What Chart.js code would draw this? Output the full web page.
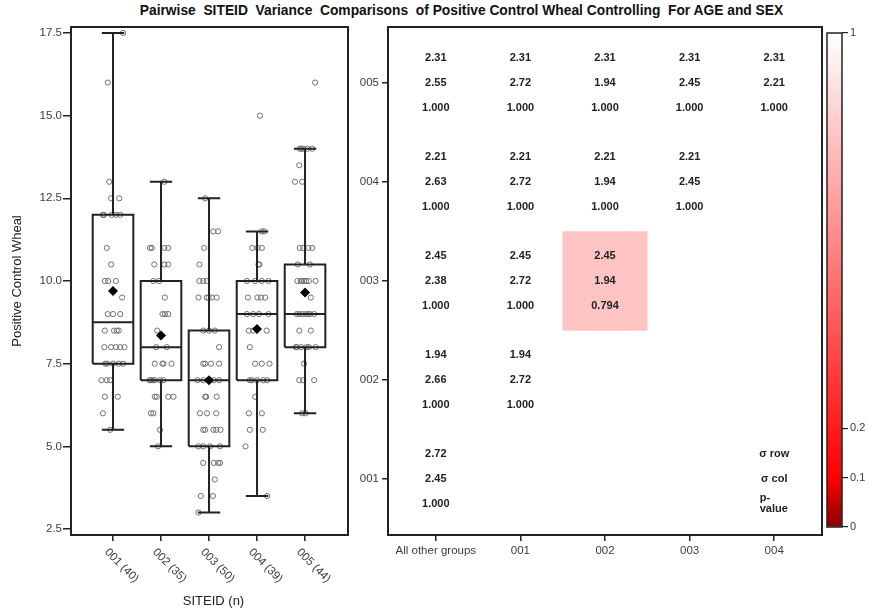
<!DOCTYPE html>
<html><head><meta charset="utf-8">
<script src="https://cdn.jsdelivr.net/npm/chart.js@4.4.0/dist/chart.umd.min.js"></script>
<style>
html,body{margin:0;padding:0;background:#fff;}
#wrap{position:relative;width:870px;height:611px;overflow:hidden;background:#fff;}
canvas{position:absolute;top:0;}
#title{position:absolute;top:3px;left:0;width:923px;text-align:center;white-space:pre;
 font:bold 13.8px "Liberation Sans",Arial,sans-serif;color:#111;}
</style></head><body>
<div id="wrap">
<div id="title">Pairwise  SITEID  Variance  Comparisons  of Positive Control Wheal Controlling  For AGE and SEX</div>
<canvas id="box" width="360" height="611" style="left:0px"></canvas>
<canvas id="mat" width="478" height="611" style="left:350px"></canvas>
<canvas id="cb" width="50" height="611" style="left:820px"></canvas>
</div>
<script>
// ---------- data: boxplot panel ----------
const sites = ['001','002','003','004','005'];
const siteN = [40,35,50,39,44];
const q1Vals = [7.5,7.0,5.0,7.0,8.0];
const medVals = [8.75,8.0,7.0,9.0,9.0];
const q3Vals = [12.0,10.0,8.5,10.0,10.5];
const whiskLo = [5.5,5.0,3.0,3.5,6.0];
const whiskHi = [17.5,13.0,12.5,11.5,14.0];
const meanVals = [9.7,8.35,7.0,8.55,9.65];
const yTickVals = [2.5,5.0,7.5,10.0,12.5,15.0,17.5];

const vals001 = [17.5,16.0,13.0,12.5,12.5,12.0,12.0,12.0,12.0,12.0,11.0,10.5,10.0,10.0,10.0,9.5,9.0,9.0,9.0,8.5,8.5,8.5,8.5,8.0,8.0,8.0,8.0,8.0,7.5,7.5,7.5,7.5,7.5,7.0,7.0,7.0,6.5,6.5,6.0,5.5];
const jit001 = [0.21,-0.11,-0.08,-0.04,0.13,-0.21,-0.03,0.06,0.15,-0.19,-0.13,-0.04,-0.17,0.06,-0.10,0.19,-0.11,0.15,0.00,-0.17,0.02,0.12,0.08,-0.18,0.06,0.15,0.24,-0.04,-0.12,0.12,0.21,0.00,-0.16,-0.24,-0.13,-0.06,-0.17,0.10,-0.21,-0.06];
const vals002 = [13.0,11.0,11.0,11.0,11.0,10.5,10.5,10.5,10.0,10.0,9.5,9.0,9.0,9.0,8.5,8.0,8.0,7.5,7.5,7.5,7.5,7.0,7.0,7.0,7.0,7.0,7.0,6.5,6.5,6.5,6.5,6.0,6.0,5.5,5.0];
const jit002 = [0.07,-0.23,-0.19,0.07,0.15,-0.14,0.07,0.15,-0.16,-0.04,0.08,0.03,0.08,0.15,-0.08,-0.10,0.12,-0.13,0.03,0.05,0.22,-0.24,-0.21,-0.13,-0.02,0.05,-0.17,-0.13,-0.09,0.15,0.26,-0.21,-0.16,-0.02,-0.06];
const vals003 = [12.5,11.5,11.5,11.0,10.5,10.0,10.0,10.0,9.5,9.5,9.5,9.5,9.5,8.5,8.5,8.5,8.0,7.5,7.5,7.5,7.5,7.0,7.0,7.0,7.0,7.0,7.0,6.5,6.5,6.5,6.0,6.0,6.0,5.5,5.5,5.5,5.5,5.5,5.0,5.0,5.0,5.0,4.5,4.5,4.5,4.5,4.0,3.5,3.5,3.0];
const jit003 = [-0.08,0.09,0.19,-0.10,-0.20,-0.20,-0.12,-0.05,-0.22,-0.05,-0.01,0.16,0.06,-0.12,0.12,0.00,0.21,-0.12,-0.08,0.21,0.04,-0.24,-0.02,0.00,0.21,-0.12,0.10,-0.08,-0.06,0.16,-0.04,0.15,-0.19,-0.12,-0.08,0.09,0.15,0.24,-0.22,-0.12,0.23,0.02,-0.12,0.10,0.19,0.23,0.12,-0.17,0.08,-0.22];
const vals004 = [15.0,11.5,11.5,11.0,11.0,11.0,10.5,10.5,10.0,10.0,10.0,10.0,9.5,9.5,9.5,9.5,9.0,9.0,9.0,9.0,8.5,8.5,8.5,8.0,7.5,7.5,7.5,7.0,7.0,7.0,7.0,7.0,6.5,6.0,6.0,5.5,5.5,5.0,3.5];
const jit004 = [0.06,0.10,0.15,-0.10,0.01,0.10,0.03,0.05,0.24,-0.21,-0.04,0.10,-0.19,0.01,0.08,0.17,-0.21,-0.08,0.24,0.04,-0.08,0.20,-0.17,-0.15,-0.04,0.26,0.10,-0.15,-0.11,0.13,0.00,0.21,-0.04,0.10,-0.17,-0.15,0.12,-0.24,0.21];
const vals005 = [16.0,14.0,14.0,14.0,14.0,14.0,13.5,13.0,13.0,11.0,11.0,11.0,11.0,10.5,10.5,10.0,10.0,10.0,10.0,10.0,10.0,10.0,9.5,9.0,9.0,9.0,9.0,9.0,9.0,9.0,8.5,8.5,8.0,8.0,8.0,8.0,8.0,8.0,7.5,7.0,7.0,7.0,6.0,6.0];
const jit005 = [0.21,-0.11,-0.04,0.05,0.15,-0.08,-0.12,-0.21,-0.06,-0.11,-0.04,0.07,0.15,-0.15,0.10,-0.16,-0.09,-0.02,0.08,0.22,-0.06,0.02,0.12,-0.17,-0.12,0.01,0.10,-0.06,0.06,0.19,-0.12,0.12,-0.19,0.03,0.22,-0.17,-0.08,0.08,-0.02,-0.04,0.19,-0.12,0.01,-0.06];

// ---------- data: comparison matrix ----------
const colLabels = ['All other groups','001','002','003','004'];
const rowLabels = ['001','002','003','004','005'];
const cellRow = [5,5,5,5,5,4,4,4,4,3,3,3,2,2,1];
const cellCol = [0,1,2,3,4,0,1,2,3,0,1,2,0,1,0];
const sigmaRow = [2.31,2.31,2.31,2.31,2.31,2.21,2.21,2.21,2.21,2.45,2.45,2.45,1.94,1.94,2.72];
const sigmaCol = [2.55,2.72,1.94,2.45,2.21,2.63,2.72,1.94,2.45,2.38,2.72,1.94,2.66,2.72,2.45];
const pValues = [1,1,1,1,1,1,1,1,1,1,1,0.794,1,1,1];
const legendLines = ['\u03C3 row','\u03C3 col','p-','value'];

// ---------- colour map ----------
const cmapStops = [0,0.1,1];
const cmapColors = [[139,0,0],[255,0,0],[255,255,255]];
const cbTicks = [0,0.1,0.2,1];

// ---------- helpers ----------
const FONT = '"Liberation Sans", Arial, sans-serif';
Chart.defaults.font.family = FONT;
Chart.defaults.animation = false;
const TICKC = '#3b3b46';
const LINEC = '#222';

function cmap(p){
  for(let i=1;i<cmapStops.length;i++){
    if(p<=cmapStops[i]){
      const t=(p-cmapStops[i-1])/(cmapStops[i]-cmapStops[i-1]);
      const a=cmapColors[i-1], b=cmapColors[i];
      return 'rgb('+a.map((v,k)=>Math.round(v+(b[k]-v)*t)).join(',')+')';
    }
  }
  return 'rgb('+cmapColors[cmapColors.length-1].join(',')+')';
}

const allVals=[vals001,vals002,vals003,vals004,vals005];
const allJit=[jit001,jit002,jit003,jit004,jit005];
const pointData=[];
allVals.forEach((arr,i)=>arr.forEach((v,k)=>pointData.push({x:i+1+allJit[i][k],y:v})));

const BOXH=0.423, CAPH=0.233;
const boxPath=[];
sites.forEach((s,i)=>{
  const x=i+1;
  const gap={x:x,y:null};
  boxPath.push({x:x-BOXH,y:q1Vals[i]},{x:x+BOXH,y:q1Vals[i]},{x:x+BOXH,y:q3Vals[i]},{x:x-BOXH,y:q3Vals[i]},{x:x-BOXH,y:q1Vals[i]},gap);
  boxPath.push({x:x-BOXH,y:medVals[i]},{x:x+BOXH,y:medVals[i]},gap);
  boxPath.push({x:x,y:whiskLo[i]},{x:x,y:q1Vals[i]},gap);
  boxPath.push({x:x,y:q3Vals[i]},{x:x,y:whiskHi[i]},gap);
  boxPath.push({x:x-CAPH,y:whiskLo[i]},{x:x+CAPH,y:whiskLo[i]},gap);
  boxPath.push({x:x-CAPH,y:whiskHi[i]},{x:x+CAPH,y:whiskHi[i]},gap);
});
const meanData=meanVals.map((m,i)=>({x:i+1,y:m}));

const framePlugin={id:'frame',afterDraw(chart,args,opts){
  const a=chart.chartArea,ctx=chart.ctx;
  ctx.save();ctx.strokeStyle=LINEC;ctx.lineWidth=opts.lw||2;
  ctx.strokeRect(a.left,a.top,a.right-a.left,a.bottom-a.top);ctx.restore();
}};

// ---------- left: boxplot ----------
const boxLabels={id:'boxLabels',afterDraw(chart){
  const ctx=chart.ctx,xs=chart.scales.x,a=chart.chartArea;
  ctx.save();
  ctx.fillStyle=TICKC;ctx.font='11.5px '+FONT;ctx.textAlign='left';ctx.textBaseline='middle';
  sites.forEach((s,i)=>{
    const px=xs.getPixelForValue(i+1);
    ctx.save();ctx.translate(px-6.5,a.bottom+15.5);ctx.rotate(Math.PI/4);
    ctx.fillText(s+' ('+siteN[i]+')',0,0);ctx.restore();
  });
  ctx.fillStyle='#222';ctx.font='13px '+FONT;ctx.textAlign='center';
  ctx.fillText('SITEID (n)',213.5,601);
  ctx.save();ctx.translate(17,281);ctx.rotate(-Math.PI/2);
  ctx.fillText('Positive Control Wheal',0,0);ctx.restore();
  ctx.restore();
}};

new Chart(document.getElementById('box'),{
  type:'scatter',
  data:{datasets:[
    {data:pointData,pointStyle:'circle',pointRadius:2.6,pointBorderWidth:1,pointBorderColor:'#707070',pointBackgroundColor:'rgba(0,0,0,0)',showLine:false,order:3},
    {data:boxPath,showLine:true,spanGaps:false,pointRadius:0,borderColor:LINEC,borderWidth:2,borderJoinStyle:'miter',borderCapStyle:'butt',tension:0,order:2},
    {data:meanData,pointStyle:'rectRot',pointRadius:5,pointBackgroundColor:'#000',pointBorderColor:'#000',pointBorderWidth:0,showLine:false,order:1}
  ]},
  options:{
    responsive:false,devicePixelRatio:1,
    layout:{padding:{top:27,right:12,left:0,bottom:0}},
    plugins:{legend:{display:false},tooltip:{enabled:false},frame:{lw:2}},
    scales:{
      x:{type:'linear',min:0.125,max:5.895,
        afterBuildTicks:s=>{s.ticks=sites.map((v,i)=>({value:i+1}));},
        afterFit:s=>{s.height=76;},
        ticks:{display:false},
        border:{display:false},
        grid:{display:true,offset:false,drawOnChartArea:false,drawTicks:true,tickLength:6,color:LINEC,lineWidth:1.5}},
      y:{type:'linear',min:2.32,max:17.68,
        afterBuildTicks:s=>{s.ticks=yTickVals.map(v=>({value:v}));},
        afterFit:s=>{s.width=71;},
        ticks:{color:TICKC,font:{size:11.5},padding:1,callback:v=>Number(v).toFixed(1)},
        border:{display:false},
        grid:{display:true,drawOnChartArea:false,drawTicks:true,tickLength:8,color:LINEC,lineWidth:1.5}}
    }
  },
  plugins:[framePlugin,boxLabels]
});

// ---------- middle: comparison matrix ----------
const cellData=cellRow.map((r,i)=>({x:cellCol[i],y:[r-0.5,r+0.5]}));
const cellColors=pValues.map(p=>cmap(p));
const cellText={id:'cellText',afterDatasetsDraw(chart){
  const ctx=chart.ctx,xs=chart.scales.x,ys=chart.scales.y;
  ctx.save();ctx.fillStyle='#222';ctx.font='bold 11px '+FONT;ctx.textAlign='center';ctx.textBaseline='middle';
  cellRow.forEach((r,i)=>{
    const px=xs.getPixelForValue(cellCol[i]),py=ys.getPixelForValue(r);
    ctx.fillText(sigmaRow[i].toFixed(2),px,py-24.7);
    ctx.fillText(sigmaCol[i].toFixed(2),px,py);
    ctx.fillText(pValues[i].toFixed(3),px,py+24.7);
  });
  const lx=xs.getPixelForValue(4),ly=ys.getPixelForValue(1);
  ctx.fillText(legendLines[0],lx,ly-24.7);
  ctx.fillText(legendLines[1],lx,ly);
  ctx.textAlign='left';
  ctx.fillText(legendLines[2],lx-14.5,ly+19);
  ctx.fillText(legendLines[3],lx-14.5,ly+30);
  ctx.restore();
}};

new Chart(document.getElementById('mat'),{
  type:'bar',
  data:{datasets:[{data:cellData,backgroundColor:cellColors,borderWidth:0,barPercentage:1,categoryPercentage:1,grouped:false}]},
  options:{
    responsive:false,devicePixelRatio:1,
    layout:{padding:{top:27,right:6,left:0,bottom:0}},
    plugins:{legend:{display:false},tooltip:{enabled:false},frame:{lw:2}},
    scales:{
      x:{type:'linear',min:-0.565,max:4.565,offset:false,
        afterBuildTicks:s=>{s.ticks=colLabels.map((v,i)=>({value:i}));},
        afterFit:s=>{s.height=76;},
        ticks:{color:TICKC,font:{size:11.5},padding:3,autoSkip:false,maxRotation:0,minRotation:0,callback:v=>colLabels[Math.round(v)]},
        border:{display:false},
        grid:{display:true,offset:false,drawOnChartArea:false,drawTicks:true,tickLength:6,color:LINEC,lineWidth:1.5}},
      y:{type:'linear',min:0.435,max:5.565,
        afterBuildTicks:s=>{s.ticks=rowLabels.map((v,i)=>({value:i+1}));},
        afterFit:s=>{s.width=38;},
        ticks:{color:TICKC,font:{size:11.5},padding:3,callback:v=>rowLabels[Math.round(v)-1]},
        border:{display:false},
        grid:{display:true,drawOnChartArea:false,drawTicks:true,tickLength:6,color:LINEC,lineWidth:1.5}}
    }
  },
  plugins:[framePlugin,cellText]
});

// ---------- right: colour bar ----------
new Chart(document.getElementById('cb'),{
  type:'bar',
  data:{labels:['p'],datasets:[{data:[[0,1]],borderWidth:0,barPercentage:1,categoryPercentage:1,
    backgroundColor:(c)=>{
      const ch=c.chart,a=ch.chartArea;if(!a)return '#fff';
      const ys=ch.scales.y;
      const g=ch.ctx.createLinearGradient(0,ys.getPixelForValue(0),0,ys.getPixelForValue(1));
      cmapStops.forEach((s,i)=>g.addColorStop(s,'rgb('+cmapColors[i].join(',')+')'));
      return g;
    }}]},
  options:{
    responsive:false,devicePixelRatio:1,
    layout:{padding:{top:33,left:7,right:0,bottom:84}},
    plugins:{legend:{display:false},tooltip:{enabled:false},frame:{lw:1.5}},
    scales:{
      x:{display:false},
      y:{type:'linear',position:'right',min:0,max:1,
        afterBuildTicks:s=>{s.ticks=cbTicks.map(v=>({value:v}));},
        afterFit:s=>{s.width=28;},
        ticks:{color:TICKC,font:{size:11},padding:2,callback:v=>String(v)},
        border:{display:false},
        grid:{display:true,drawOnChartArea:false,drawTicks:true,tickLength:6,color:LINEC,lineWidth:1.2}}
    }
  },
  plugins:[framePlugin]
});
</script>
</body></html>
